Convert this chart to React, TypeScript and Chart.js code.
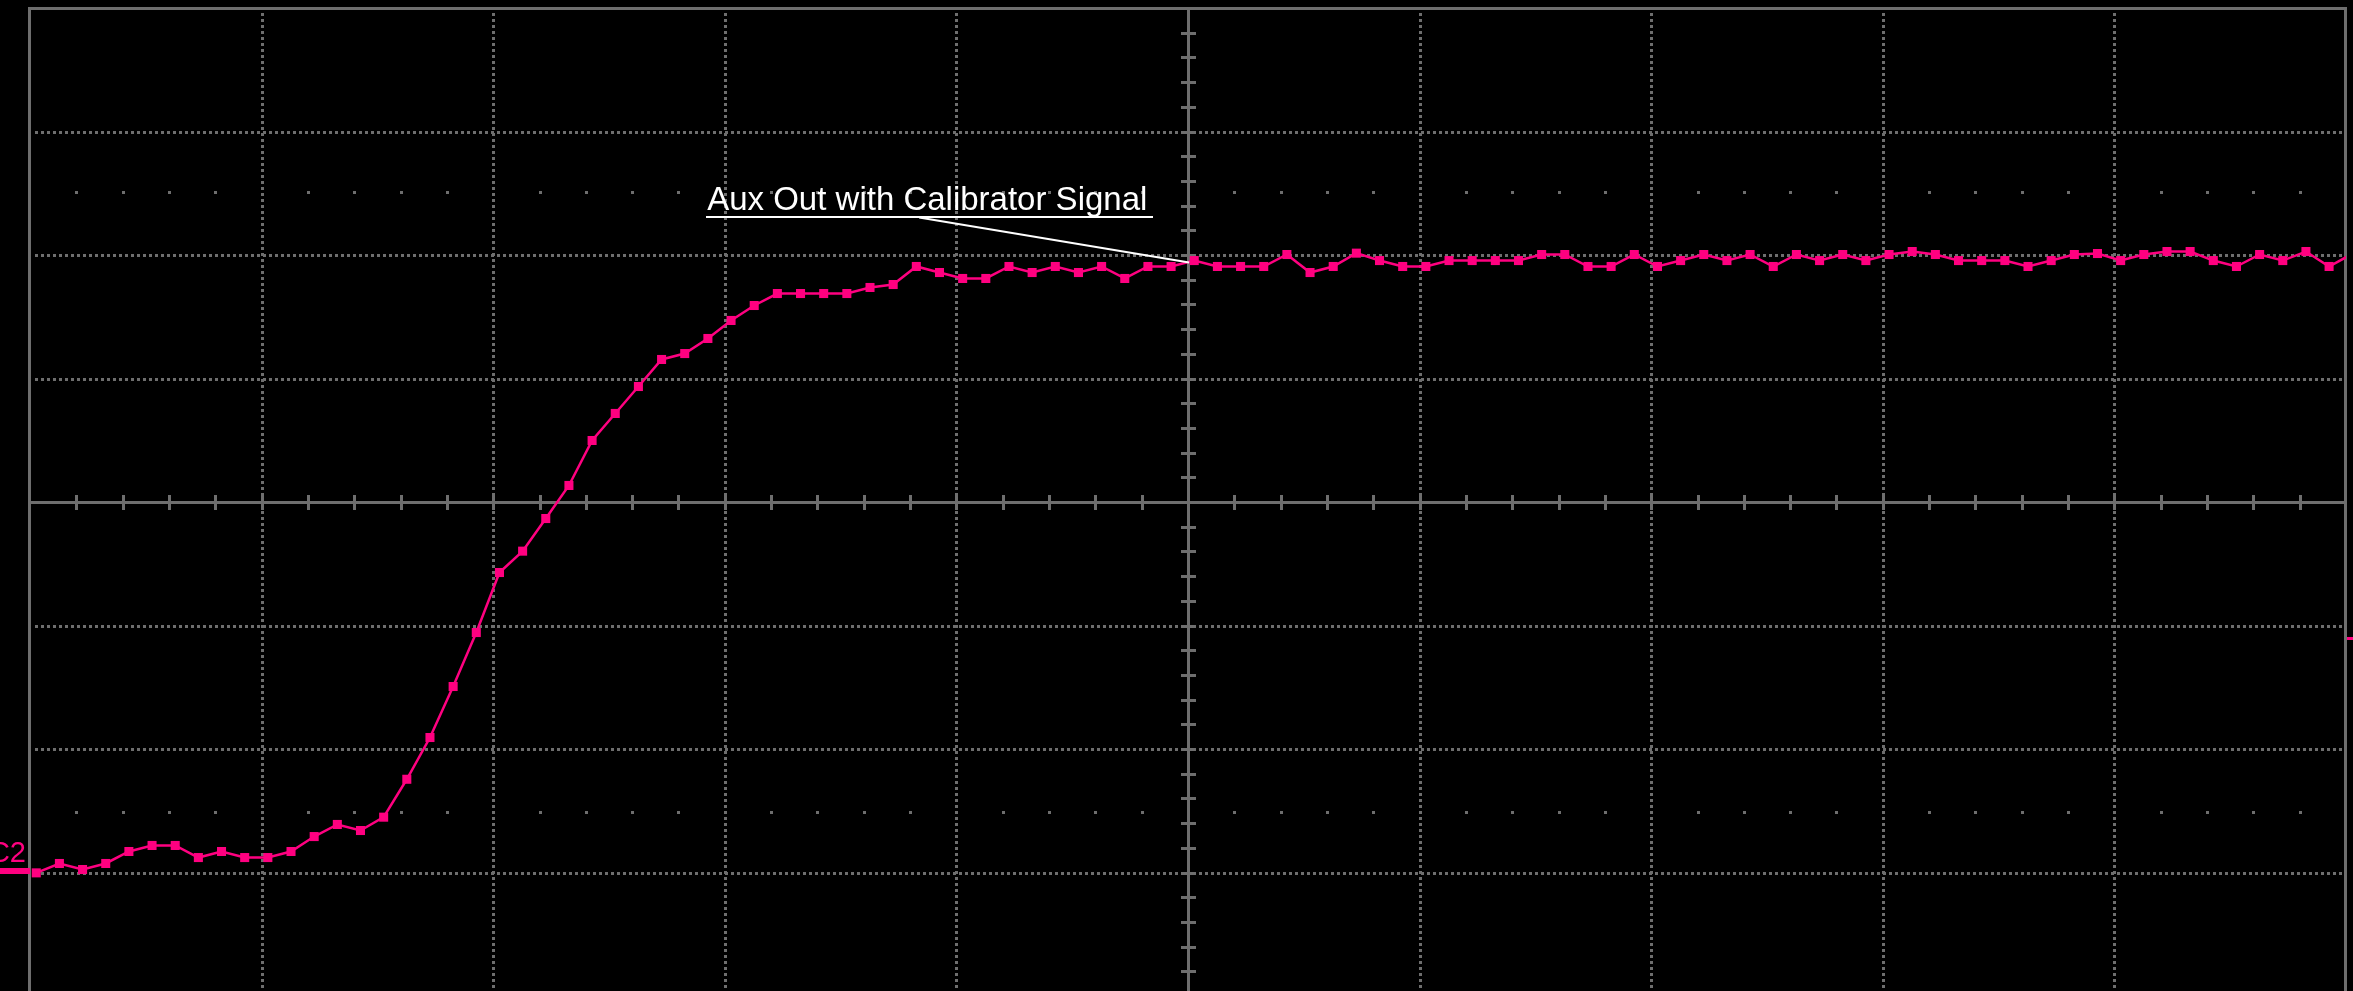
import { useEffect, useRef } from 'react';
import { Chart, registerables } from 'chart.js';

Chart.register(...registerables);

// Screen geometry (graticule is 10 x 8 divisions; the bottom edge runs just past the window)
const VIEW_W = 2353;
const VIEW_H = 991;
const CANVAS_H = 1004;

const TRACE_COLOR = '#ff0080';
const GRID_COLOR = '#6e6e6e';
const LABEL_COLOR = '#ffffff';

// Graticule divisions
const X_DIVS = [-5, -4, -3, -2, -1, 0, 1, 2, 3, 4, 5];
const Y_DIVS = [-4, -3, -2, -1, 0, 1, 2, 3, 4];
const MINOR_PER_DIV = 5;
const REF_LEVELS = [2.51, -2.51]; // 0 % / 100 % rise-time marker rows

// Acquisition: 10 samples per horizontal division
const SAMPLES_PER_DIV = 10;
const FIRST_SAMPLE_X = -4.973;

// Channel 2 trace, in vertical divisions
const traceLevels = [
  -3.003, -2.927, -2.976, -2.927, -2.83, -2.781, -2.781, -2.879, -2.83, -2.879,
  -2.879, -2.83, -2.709, -2.611, -2.66, -2.552, -2.245, -1.907, -1.494, -1.057,
  -0.571, -0.398, -0.134, 0.134, 0.498, 0.717, 0.935, 1.154, 1.202, 1.324,
  1.47, 1.591, 1.688, 1.688, 1.688, 1.688, 1.737, 1.761, 1.907, 1.858,
  1.81, 1.81, 1.907, 1.858, 1.907, 1.858, 1.907, 1.81, 1.907, 1.907,
  1.955, 1.907, 1.907, 1.907, 2.004, 1.858, 1.907, 2.015, 1.955, 1.907,
  1.907, 1.955, 1.955, 1.955, 1.955, 2.004, 2.004, 1.907, 1.907, 2.004,
  1.907, 1.955, 2.004, 1.955, 2.004, 1.907, 2.004, 1.955, 2.004, 1.955,
  2.004, 2.028, 2.004, 1.955, 1.955, 1.955, 1.907, 1.955, 2.004, 2.012,
  1.955, 2.004, 2.028, 2.028, 1.955, 1.907, 2.004, 1.955, 2.028, 1.907,
  2.01,
];

// Annotation and channel markers
const TRACE_LABEL = 'Aux Out with Calibrator Signal';
const LABEL_ANCHOR = { x: 0.005, y: 1.94 };
const CHANNEL_NAME = 'C2';
const CHANNEL_OFFSET = -2.99;
const TRIGGER_LEVEL = -1.1;

const tracePoints = traceLevels.map((v, k) => ({
  x: FIRST_SAMPLE_X + k / SAMPLES_PER_DIV,
  y: v,
}));

const graticulePlugin = {
  id: 'graticule',
  beforeDatasetsDraw(chart: any) {
    const { ctx, chartArea: a, scales } = chart;
    const xs = scales.x;
    const ys = scales.y;
    const cx = Math.round(xs.getPixelForValue(0));
    const cy = Math.round(ys.getPixelForValue(0));
    const xFirst = X_DIVS[0];
    const xLast = X_DIVS[X_DIVS.length - 1];
    const yFirst = Y_DIVS[0];
    const yLast = Y_DIVS[Y_DIVS.length - 1];

    ctx.save();
    ctx.fillStyle = GRID_COLOR;

    // dotted vertical division lines
    for (const d of X_DIVS) {
      if (d === 0 || d === xFirst || d === xLast) continue;
      const px = Math.round(xs.getPixelForValue(d));
      for (let py = a.top + 6; py < a.bottom - 2; py += 6) {
        ctx.fillRect(px - 1, py - 1, 3, 3);
      }
    }
    // dotted horizontal division lines
    for (const d of Y_DIVS) {
      if (d === 0 || d === yFirst || d === yLast) continue;
      const py = Math.round(ys.getPixelForValue(d));
      for (let px = a.left + 5; px < a.right - 2; px += 6) {
        ctx.fillRect(px, py - 1, 3, 3);
      }
    }
    // rise-time reference dots
    for (const lv of REF_LEVELS) {
      const py = Math.round(ys.getPixelForValue(lv));
      for (let i = xFirst * MINOR_PER_DIV + 1; i < xLast * MINOR_PER_DIV; i++) {
        if (i % MINOR_PER_DIV === 0) continue;
        const px = Math.round(xs.getPixelForValue(i / MINOR_PER_DIV));
        ctx.fillRect(px - 1, py - 1, 3, 3);
      }
    }
    // centre cross
    ctx.fillRect(cx - 1, a.top, 3, a.bottom - a.top);
    ctx.fillRect(a.left, cy - 1, a.right - a.left, 3);
    // minor ticks on the centre cross
    for (let i = xFirst * MINOR_PER_DIV + 1; i < xLast * MINOR_PER_DIV; i++) {
      if (i === 0) continue;
      const px = Math.round(xs.getPixelForValue(i / MINOR_PER_DIV));
      ctx.fillRect(px - 1, cy - 7, 3, 15);
    }
    for (let i = yFirst * MINOR_PER_DIV + 1; i < yLast * MINOR_PER_DIV; i++) {
      if (i === 0) continue;
      const py = Math.round(ys.getPixelForValue(i / MINOR_PER_DIV));
      ctx.fillRect(cx - 7, py - 1, 15, 3);
    }
    // frame
    ctx.fillRect(a.left - 2, a.top - 1, a.right - a.left + 3, 3);
    ctx.fillRect(a.left - 2, a.bottom - 1, a.right - a.left + 3, 3);
    ctx.fillRect(a.left - 2, a.top - 1, 3, a.bottom - a.top + 2);
    ctx.fillRect(a.right - 2, a.top - 1, 3, a.bottom - a.top + 2);
    ctx.restore();
  },
  afterDraw(chart: any) {
    const { ctx, chartArea: a, scales } = chart;
    const xs = scales.x;
    const ys = scales.y;
    ctx.save();

    // trace label with underline and leader line
    const ax = xs.getPixelForValue(LABEL_ANCHOR.x);
    const ay = ys.getPixelForValue(LABEL_ANCHOR.y);
    ctx.font = '33px "Liberation Sans", Arial, sans-serif';
    ctx.fillStyle = LABEL_COLOR;
    ctx.textAlign = 'left';
    ctx.textBaseline = 'alphabetic';
    const tx = ax - 482;
    const ty = ay - 52;
    ctx.fillText(TRACE_LABEL, tx, ty);
    const tw = ctx.measureText(TRACE_LABEL).width;
    ctx.fillRect(Math.round(tx - 1), Math.round(ay - 46), Math.round(tw + 7), 2);
    ctx.strokeStyle = LABEL_COLOR;
    ctx.lineWidth = 2;
    ctx.beginPath();
    ctx.moveTo(ax - 270, ay - 45);
    ctx.lineTo(ax, ay);
    ctx.stroke();

    // channel offset marker and name at the left edge
    const oy = Math.round(ys.getPixelForValue(CHANNEL_OFFSET));
    ctx.fillStyle = TRACE_COLOR;
    ctx.fillRect(0, oy - 3, a.left, 6);
    ctx.font = '29px "Liberation Sans", Arial, sans-serif';
    ctx.textAlign = 'right';
    ctx.fillText(CHANNEL_NAME, a.left - 4, oy - 9);

    // trigger level marker at the right edge
    const ty2 = Math.round(ys.getPixelForValue(TRIGGER_LEVEL));
    ctx.fillRect(a.right + 1, ty2 - 1, VIEW_W - a.right, 3);
    ctx.restore();
  },
};

export default function App() {
  const canvasRef = useRef<HTMLCanvasElement | null>(null);

  useEffect(() => {
    const canvas = canvasRef.current;
    if (!canvas) return;
    const chart = new Chart(canvas, {
      type: 'line',
      data: {
        datasets: [
          {
            data: tracePoints,
            borderColor: TRACE_COLOR,
            backgroundColor: TRACE_COLOR,
            borderWidth: 2.5,
            tension: 0,
            pointStyle: 'rect',
            pointRadius: 6.4,
            pointBorderWidth: 0,
            pointBackgroundColor: TRACE_COLOR,
          },
        ],
      },
      options: {
        animation: false,
        responsive: false,
        events: [],
        layout: { padding: { left: 30, top: 8, right: 7, bottom: 8 } },
        plugins: {
          legend: { display: false },
          tooltip: { enabled: false },
        },
        scales: {
          x: { type: 'linear', min: X_DIVS[0], max: X_DIVS[X_DIVS.length - 1], display: false },
          y: { type: 'linear', min: Y_DIVS[0], max: Y_DIVS[Y_DIVS.length - 1], display: false },
        },
      },
      plugins: [graticulePlugin],
    } as any);
    return () => chart.destroy();
  }, []);

  return (
    <div
      style={{
        position: 'fixed',
        left: 0,
        top: 0,
        width: VIEW_W,
        height: VIEW_H,
        overflow: 'hidden',
        background: '#000',
      }}
    >
      <canvas
        ref={canvasRef}
        width={VIEW_W}
        height={CANVAS_H}
        style={{ display: 'block', width: VIEW_W, height: CANVAS_H }}
      />
    </div>
  );
}
